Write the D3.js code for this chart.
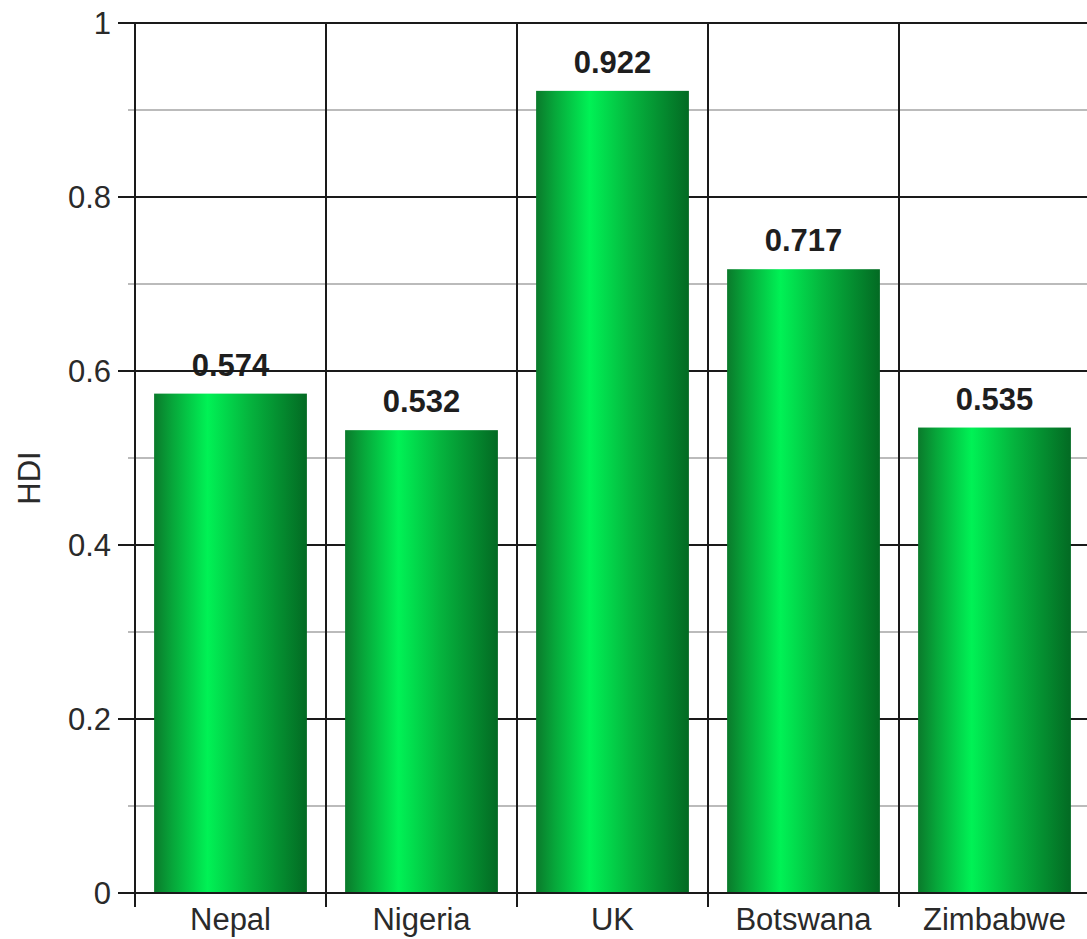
<!DOCTYPE html>
<html>
<head>
<meta charset="utf-8">
<script src="https://cdn.jsdelivr.net/npm/d3@7/dist/d3.min.js"></script>
<style>
  body { margin: 0; background: #fff; }
  svg { display: block; font-family: "Liberation Sans", Arial, sans-serif; }
</style>
</head>
<body>
<div id="chart"></div>
<script>
var countries = ["Nepal", "Nigeria", "UK", "Botswana", "Zimbabwe"],
    hdi = [0.574, 0.532, 0.922, 0.717, 0.535],
    major_ticks = [0, 0.2, 0.4, 0.6, 0.8, 1],
    minor_ticks = [0.1, 0.3, 0.5, 0.7, 0.9],
    tick_labels = ["0", "0.2", "0.4", "0.6", "0.8", "1"];

var width = 1087,
    height = 939,
    left = 135,
    right = 1090,
    top_y = 23,
    bottom_y = 893;

var vis = d3.select("#chart").append("svg")
    .attr("width", width)
    .attr("height", height);

var x = d3.scaleBand()
    .domain(countries)
    .range([left, right])
    .paddingInner(0.2)
    .paddingOuter(0.1);

var y = d3.scaleLinear()
    .domain([0, 1])
    .range([bottom_y, top_y]);

// bar gradient, dark edges and a bright stripe left of centre
var grad = vis.append("defs").append("linearGradient")
    .attr("id", "barfill")
    .attr("x1", "0%").attr("x2", "100%")
    .attr("y1", "0%").attr("y2", "0%");
grad.append("stop").attr("offset", "0%").attr("stop-color", "#0a7a2b");
grad.append("stop").attr("offset", "12%").attr("stop-color", "#07a63a");
grad.append("stop").attr("offset", "35%").attr("stop-color", "#00f255");
grad.append("stop").attr("offset", "62%").attr("stop-color", "#05b53e");
grad.append("stop").attr("offset", "100%").attr("stop-color", "#036a23");

var data = countries.map(function (d, i) {
    return { name: d, value: hdi[i] };
});

// value labels sit under the grid lines
vis.append("g").selectAll("text")
    .data(data)
    .enter().append("text")
    .attr("x", d => x(d.name) + x.bandwidth() / 2)
    .attr("y", d => y(d.value) - 18)
    .attr("text-anchor", "middle")
    .style("font-size", "31px")
    .style("font-weight", "bold")
    .style("fill", "#1e1e1e")
    .text(d => d.value.toFixed(3));

var grid = vis.append("g");

grid.selectAll(".minor")
    .data(minor_ticks)
    .enter().append("line")
    .attr("x1", left - 7)
    .attr("x2", width)
    .attr("y1", d => y(d))
    .attr("y2", d => y(d))
    .attr("stroke", "#bbbbbb")
    .attr("stroke-width", 1.8);

grid.selectAll(".major")
    .data(major_ticks)
    .enter().append("line")
    .attr("x1", left - 17)
    .attr("x2", width)
    .attr("y1", d => y(d))
    .attr("y2", d => y(d))
    .attr("stroke", "#1a1a1a")
    .attr("stroke-width", 2);

var step_gap = (x.step() - x.bandwidth()) / 2;
var bounds = countries.map(d => x(d) - step_gap);
bounds.push(x(countries[countries.length - 1]) + x.bandwidth() + step_gap);

grid.selectAll(".vert")
    .data(bounds)
    .enter().append("line")
    .attr("x1", d => d)
    .attr("x2", d => d)
    .attr("y1", top_y)
    .attr("y2", bottom_y + 14)
    .attr("stroke", "#1a1a1a")
    .attr("stroke-width", 2);

// bars
vis.append("g").selectAll("rect")
    .data(data)
    .enter().append("rect")
    .attr("x", d => x(d.name))
    .attr("width", x.bandwidth())
    .attr("y", d => y(d.value))
    .attr("height", d => y(0) - y(d.value))
    .attr("fill", "url(#barfill)");

// axis line on top of bars
vis.append("line")
    .attr("x1", left - 17)
    .attr("x2", width)
    .attr("y1", y(0))
    .attr("y2", y(0))
    .attr("stroke", "#1a1a1a")
    .attr("stroke-width", 2.2);

// y tick labels
vis.append("g").selectAll("text")
    .data(major_ticks)
    .enter().append("text")
    .attr("x", 111)
    .attr("y", d => y(d) + 11)
    .attr("text-anchor", "end")
    .style("font-size", "31px")
    .style("fill", "#2a2a2a")
    .text((d, i) => tick_labels[i]);

// category labels
vis.append("g").selectAll("text")
    .data(countries)
    .enter().append("text")
    .attr("x", d => x(d) + x.bandwidth() / 2)
    .attr("y", 930)
    .attr("text-anchor", "middle")
    .style("font-size", "31px")
    .style("fill", "#2a2a2a")
    .text(d => d);

// y title
vis.append("text")
    .attr("transform", "translate(40,478) rotate(-90)")
    .attr("text-anchor", "middle")
    .style("font-size", "31px")
    .style("fill", "#2a2a2a")
    .text("HDI");
</script>
</body>
</html>
